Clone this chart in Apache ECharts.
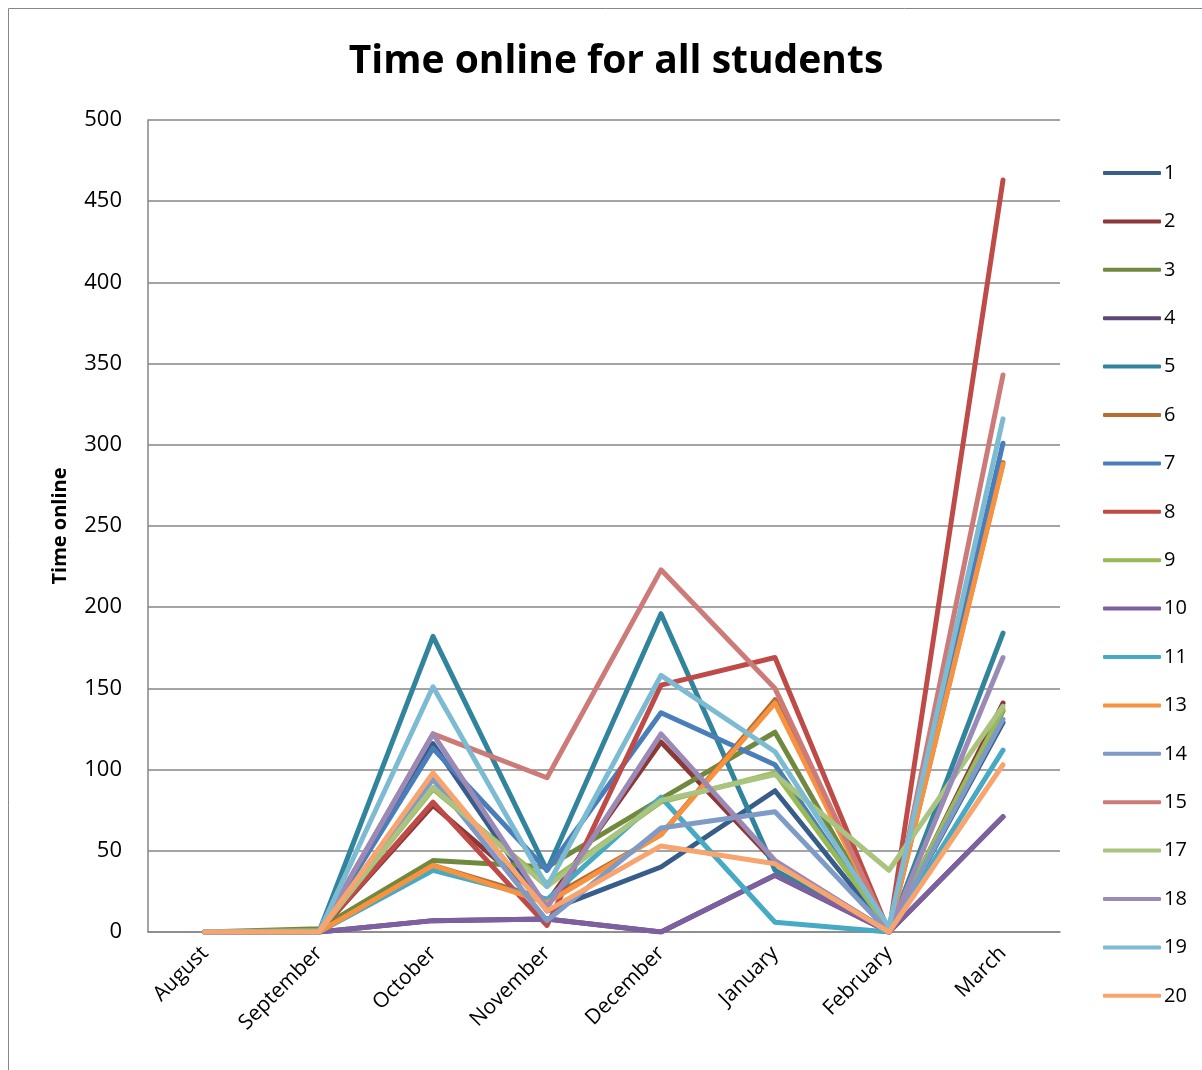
<!DOCTYPE html>
<html><head><meta charset="utf-8">
<script src="https://cdn.jsdelivr.net/npm/echarts@6/dist/echarts.min.js"></script>
<style>html,body{margin:0;padding:0;background:#fff}#c{width:1202px;height:1070px}</style>
</head><body><div id="c"></div>
<script>
const months = ['August','September','October','November','December','January','February','March'];
const yTicks = [0,50,100,150,200,250,300,350,400,450,500];
const names = ['1','2','3','4','5','6','7','8','9','10','11','13','14','15','17','18','19','20'];
const s1  = [0, 0, 116, 13, 40, 87, 0, 129];
const s2  = [0, 0, 78, 18, 117, 43, 0, 141];
const s3  = [0, 2, 44, 40, 82, 123, 0, 136];
const s4  = [0, 0, 7, 8, 0, 35, 0, 71];
const s5  = [0, 0, 182, 38, 196, 38, 0, 184];
const s6  = [0, 0, 41, 20, 60, 143, 0, 289];
const s7  = [0, 0, 113, 38, 135, 103, 0, 301];
const s8  = [0, 0, 80, 4, 152, 169, 0, 463];
const s9  = [0, 1, 88, 30, 80, 98, 2, 137];
const s10 = [0, 0, 7, 8, 0, 35, 0, 71];
const s11 = [0, 0, 38, 20, 83, 6, 0, 112];
const s13 = [0, 0, 41, 18, 60, 141, 0, 288];
const s14 = [0, 0, 94, 7, 64, 74, 0, 131];
const s15 = [0, 0, 122, 95, 223, 150, 0, 343];
const s17 = [0, 0, 89, 28, 81, 97, 38, 139];
const s18 = [0, 0, 122, 15, 122, 44, 0, 169];
const s19 = [0, 0, 151, 28, 158, 111, 3, 316];
const s20 = [0, 0, 98, 13, 53, 42, 0, 103];
const values = [s1,s2,s3,s4,s5,s6,s7,s8,s9,s10,s11,s13,s14,s15,s17,s18,s19,s20];
const colors = ['#385D8A','#8C3836','#71893F','#5C4776','#31849B','#B66D31','#4A7EBB','#BE4B48','#98B954','#7D60A0','#46AAC5','#F69240','#7E9BC8','#CD7B79','#AAC47F','#9C8AB6','#7DBBD3','#F8A46E'];

const chart = echarts.init(document.getElementById('c'));
const FONT = '"Open Sans", "Noto Sans", sans-serif';
chart.setOption({
  animation: false,
  color: colors,
  textStyle: {fontFamily: FONT},
  title: {text: 'Time online for all students', left: 611, top: 37, textAlign: 'center',
    textStyle: {fontSize: 39, fontWeight: 'bold', color: '#000', fontFamily: FONT}},
  graphic: [{type: 'rect', shape: {x: 8.5, y: 8.5, width: 1200, height: 1070}, style: {fill: 'none', stroke: '#868686', lineWidth: 1}, silent: true}],
  grid: {left: 148, right: 142, top: 120, bottom: 138, containLabel: false},
  legend: {orient: 'vertical', left: 1098, top: 158, itemWidth: 58, itemHeight: 4, itemGap: 28.4,
    icon: 'roundRect', data: names,
    textStyle: {fontSize: 20, color: '#000', fontFamily: FONT, padding: [0,0,0,-2]}},
  xAxis: {type: 'category', data: months, boundaryGap: true,
    axisLine: {lineStyle: {color: '#868686', width: 1.5}}, axisTick: {show: false},
    axisLabel: {rotate: 45, fontSize: 21, color: '#000', margin: 18, interval: 0}},
  yAxis: {type: 'value', min: 0, max: 500, interval: 50,
    name: 'Time online', nameLocation: 'middle', nameGap: 78, nameRotate: 90,
    nameTextStyle: {fontSize: 20, fontWeight: 'bold', color: '#000', fontFamily: FONT},
    axisLine: {show: true, lineStyle: {color: '#868686', width: 1.5}}, axisTick: {show: false},
    axisLabel: {fontSize: 22, color: '#000', margin: 26, formatter: v => yTicks.includes(v) ? String(v) : ''},
    splitLine: {lineStyle: {color: '#868686', width: 1.5}}},
  series: names.map((n, i) => ({name: n, type: 'line', data: values[i], showSymbol: false, symbol: 'none',
    lineStyle: {width: 5, cap: 'round', join: 'round'}}))
});
</script></body></html>
